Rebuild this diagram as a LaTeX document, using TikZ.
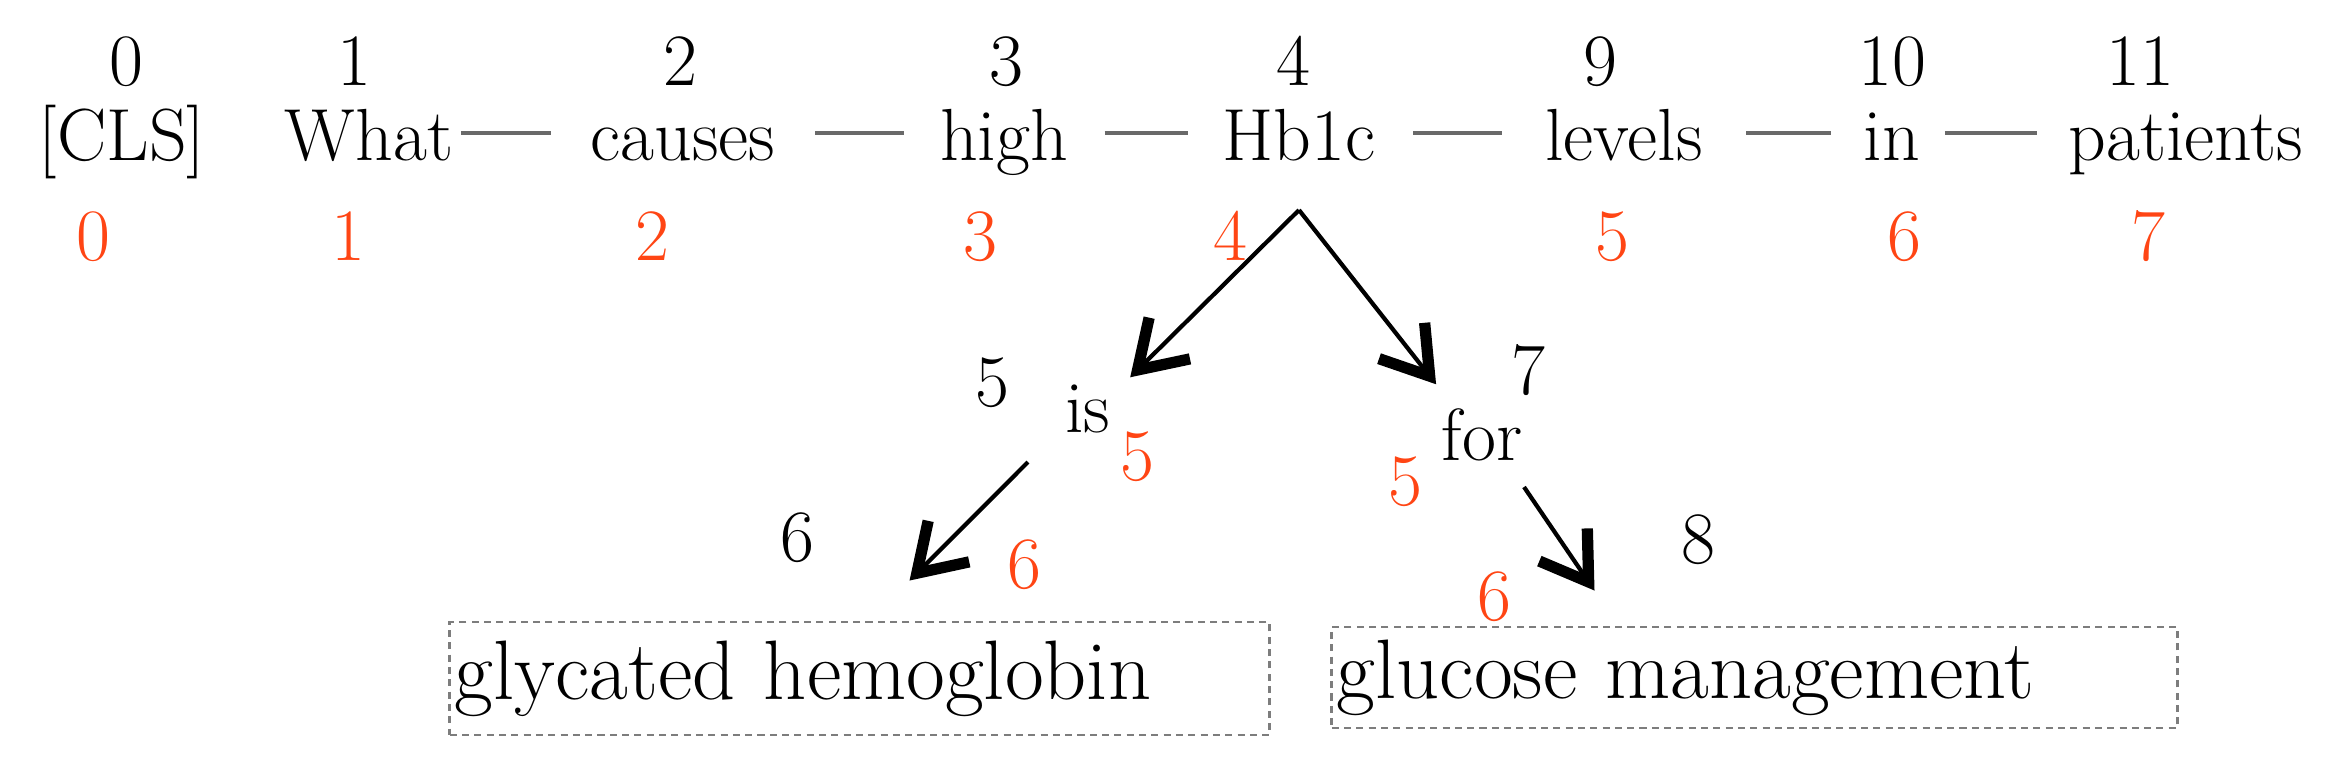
\documentclass[tikz,border=0pt]{standalone}
\usetikzlibrary{arrows.meta, positioning}
\usepackage{xcolor}
\definecolor{idxred}{RGB}{255,69,20}
\definecolor{dashgray}{RGB}{105,105,105}
\definecolor{boxgray}{RGB}{125,125,125}

\tikzset{
  word/.style={anchor=base, inner sep=0pt, text height=0.54cm, text depth=0pt, font=\fontsize{21}{25}\selectfont},
  oldidx/.style={anchor=base, inner sep=0pt, font=\fontsize{21}{25}\selectfont},
  newidx/.style={oldidx, text=idxred},
  link/.style={dashgray, line width=1.2pt},
  dep/.style={line width=1.2pt, -{Straight Barb[length=0.45cm, width=0.58cm, line width=3.2pt]}},
  phrase/.style={draw=boxgray, line width=0.8pt, dash pattern=on 2pt off 1.5pt, inner xsep=0.05cm, inner ysep=0pt, align=left, font=\fontsize{24}{28}\selectfont}
}

\begin{document}
\begin{tikzpicture}[x=0.01cm, y=-0.01cm]
\useasboundingbox (0,0) rectangle (2336,766);

% question tokens with old ids (black) and new ids (red)
\foreach \n/\x/\w/\a/\ax/\b/\bx in {cls/122/{[CLS]}/0/126/0/93, what/369/What/1/354/1/348, causes/683/causes/2/680/2/652, high/1004/high/3/1006/3/980, hbc/1299/Hb1c/4/1293/4/1230, levels/1624/levels/9/1600/5/1612, inw/1892/in/10/1892/6/1904, patients/2186/patients/11/2140/7/2148}{
  \node[word] (\n) at (\x,160) {\w};
  \node[oldidx] (\n-old) at (\ax,85) {\a};
  \node[newidx] (\n-new) at (\bx,260) {\b};
}
\foreach \a/\b/\s/\t in {what/causes/0.07/0.39, causes/high/0.39/0.35, high/hbc/0.36/0.34, hbc/levels/0.37/0.43, levels/inw/0.43/0.32, inw/patients/0.24/0.31}
  \draw[link, shorten <=\s cm, shorten >=\t cm] (\a.east) -- (\b.west);

% inserted branch
\node[word] (is) at (1088,432) {is};
\node[word] (for) at (1482,460) {for};
\node[phrase, text width=8.09cm, minimum height=1.13cm] (gly) at (859.5,678.5) {glycated hemoglobin};
\node[phrase, text width=8.35cm, minimum height=1.01cm] (gluc) at (1754.5,677.5) {glucose management};

\node[oldidx, anchor=center] (is-old) at (992,383) {5};
\node[newidx, anchor=center] (is-new) at (1137,457) {5};
\node[oldidx, anchor=center] (for-old) at (1528,370) {7};
\node[newidx, anchor=center] (for-new) at (1405,482) {5};
\node[oldidx, anchor=center] (gly-old) at (797,538) {6};
\node[newidx, anchor=center] (gly-new) at (1024,565) {6};
\node[oldidx, anchor=center] (gluc-old) at (1698,540) {8};
\node[newidx, anchor=center] (gluc-new) at (1494,597) {6};

\draw[dep] ([yshift=-0.5cm]hbc.base) -- ([xshift=0.19cm]is.north east);
\draw[dep] ([yshift=-0.5cm]hbc.base) -- ([xshift=-0.05cm, yshift=0.21cm]for.north west);
\draw[dep] ([xshift=-0.6cm, yshift=-0.3cm]is.base) -- ([xshift=0.5cm, yshift=0.4cm]gly.north);
\draw[dep] ([xshift=0.42cm, yshift=-0.27cm]for.base) -- ([xshift=2.64cm, yshift=0.35cm]gluc.north west);
\end{tikzpicture}
\end{document}
